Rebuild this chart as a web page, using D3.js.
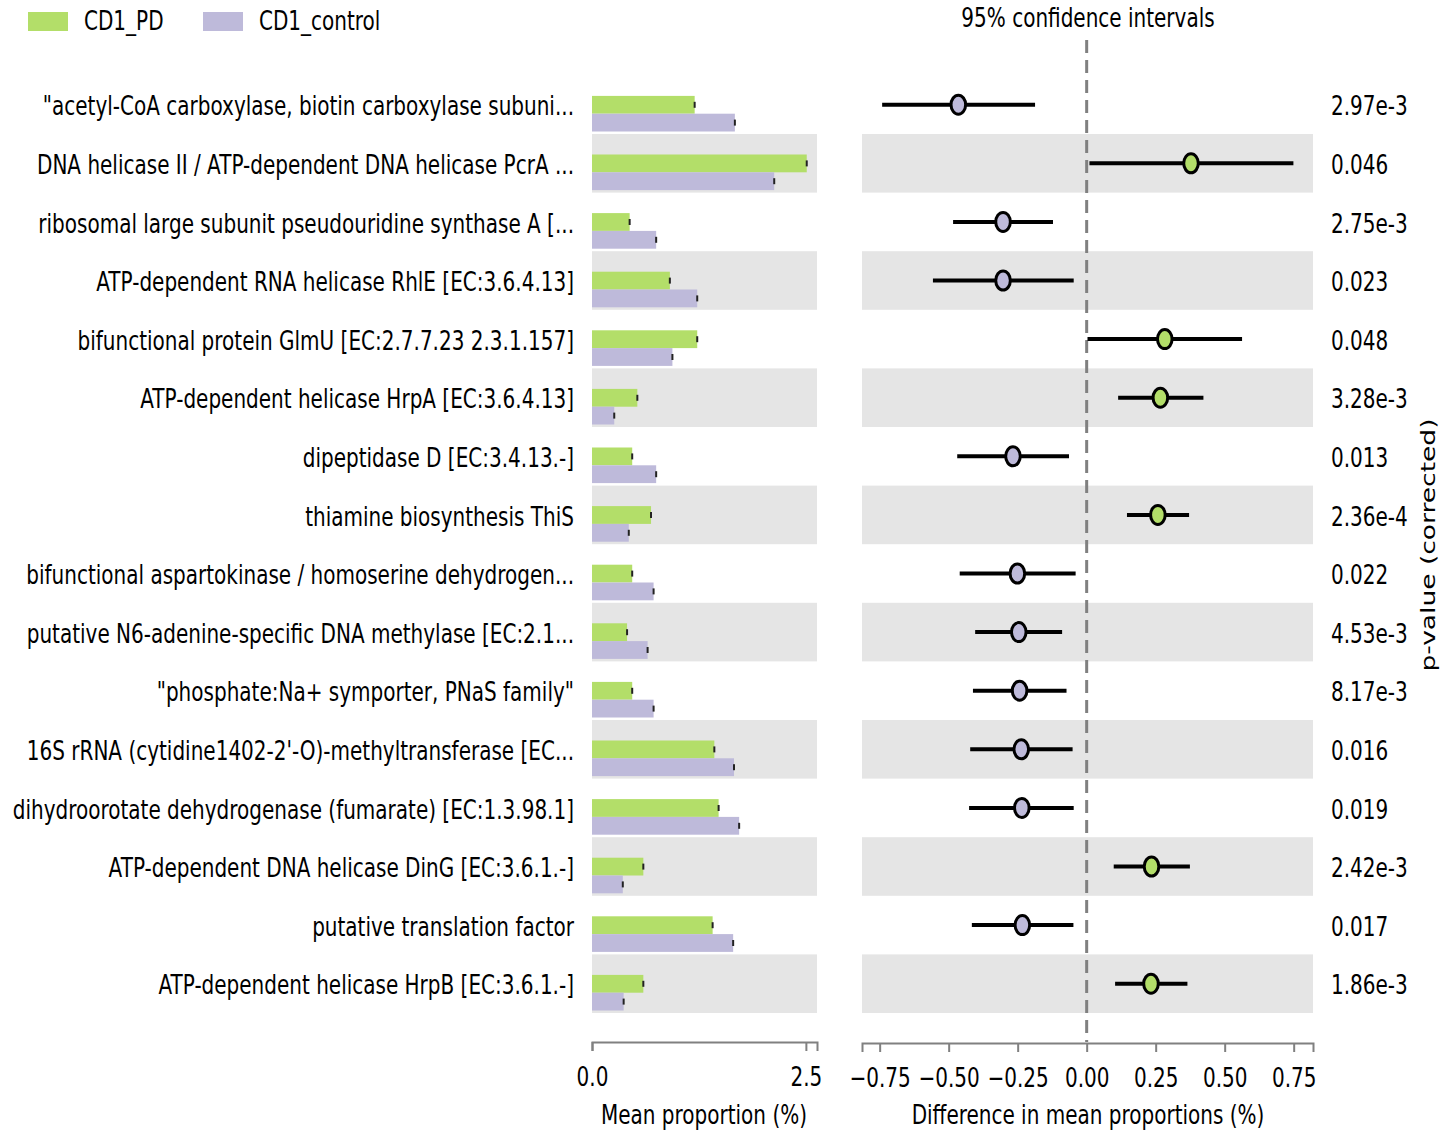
<!DOCTYPE html>
<html>
<head>
<meta charset="utf-8">
<script src="https://cdn.jsdelivr.net/npm/d3@7"></script>
<style>
  body { margin: 0; background: #fff; }
  text { font-family: "DejaVu Sans", sans-serif; fill: #000; }
</style>
</head>
<body>
<svg></svg>
<script>
const width = 1443;
const height = 1131;

// data, top row first
const labels = [
  "\"acetyl-CoA carboxylase, biotin carboxylase subuni...",
  "DNA helicase II / ATP-dependent DNA helicase PcrA ...",
  "ribosomal large subunit pseudouridine synthase A [...",
  "ATP-dependent RNA helicase RhlE [EC:3.6.4.13]",
  "bifunctional protein GlmU [EC:2.7.7.23 2.3.1.157]",
  "ATP-dependent helicase HrpA [EC:3.6.4.13]",
  "dipeptidase D [EC:3.4.13.-]",
  "thiamine biosynthesis ThiS",
  "bifunctional aspartokinase / homoserine dehydrogen...",
  "putative N6-adenine-specific DNA methylase [EC:2.1...",
  "\"phosphate:Na+ symporter, PNaS family\"",
  "16S rRNA (cytidine1402-2'-O)-methyltransferase [EC...",
  "dihydroorotate dehydrogenase (fumarate) [EC:1.3.98.1]",
  "ATP-dependent DNA helicase DinG [EC:3.6.1.-]",
  "putative translation factor",
  "ATP-dependent helicase HrpB [EC:3.6.1.-]"
];
const pdMean   = [1.20, 2.51, 0.44, 0.91, 1.23, 0.53, 0.47, 0.69, 0.47, 0.41, 0.47, 1.43, 1.48, 0.60, 1.41, 0.60];
const ctrlMean = [1.67, 2.13, 0.75, 1.23, 0.94, 0.26, 0.75, 0.43, 0.72, 0.65, 0.72, 1.66, 1.72, 0.36, 1.65, 0.37];
const diffMean = [-0.465, 0.378, -0.303, -0.303, 0.283, 0.267, -0.267, 0.258, -0.251, -0.246, -0.243, -0.237, -0.235, 0.235, -0.233, 0.233];
const ciLow    = [-0.741, 0.010, -0.484, -0.557, 0.003, 0.114, -0.469, 0.146, -0.460, -0.404, -0.412, -0.422, -0.426, 0.098, -0.416, 0.103];
const ciHigh   = [-0.187, 0.749, -0.122, -0.047, 0.563, 0.423, -0.064, 0.371, -0.040, -0.089, -0.073, -0.051, -0.047, 0.374, -0.048, 0.365];
const pValues  = ["2.97e-3", "0.046", "2.75e-3", "0.023", "0.048", "3.28e-3", "0.013", "2.36e-4", "0.022", "4.53e-3", "8.17e-3", "0.016", "0.019", "2.42e-3", "0.017", "1.86e-3"];
const groups = ["CD1_PD", "CD1_control"];
const propTicks = [0, 2.5];
const diffTicks = [-0.75, -0.5, -0.25, 0, 0.25, 0.5, 0.75];

const green = "#b3de69";
const purple = "#bebada";
const band = "#e5e5e5";
const axisGray = "#808080";
const SX = 0.755;      // horizontal squeeze of the text
const fontSize = 26.5;

const svg = d3.select("svg")
    .attr("width", width)
    .attr("height", height);

// helper: place a squeezed text
function label(g, x, y, str, anchor) {
    return g.append("text")
        .attr("transform", `translate(${x},${y}) scale(${SX},1)`)
        .attr("text-anchor", anchor || "start")
        .attr("dy", "0.35em")
        .style("font-size", fontSize + "px")
        .text(str);
}

const y = d3.scaleBand()
    .domain(d3.range(labels.length))
    .range([75.4, 75.4 + 58.6 * labels.length]);

const xProp = d3.scaleLinear().domain([0, 2.63]).range([592, 817]);
const xDiff = d3.scaleLinear().domain([-0.814, 0.82]).range([862, 1313]);

// gray stripes on every second row
const stripes = d3.range(labels.length).filter(i => i % 2 === 1);
svg.selectAll(".band1")
    .data(stripes)
    .enter().append("rect")
    .attr("x", xProp.range()[0])
    .attr("y", i => y(i))
    .attr("width", xProp.range()[1] - xProp.range()[0])
    .attr("height", y.bandwidth())
    .attr("fill", band);
svg.selectAll(".band2")
    .data(stripes)
    .enter().append("rect")
    .attr("x", xDiff.range()[0])
    .attr("y", i => y(i))
    .attr("width", xDiff.range()[1] - xDiff.range()[0])
    .attr("height", y.bandwidth())
    .attr("fill", band);

// row labels + p-values
const rows = d3.range(labels.length);
rows.forEach(i => {
    const cy = y(i) + y.bandwidth() / 2 + 1.5;
    label(svg, 574, cy, labels[i], "end");
    label(svg, 1331, cy, pValues[i], "start");
});

// mean proportion bars
const barH = 17.8;
const bars = svg.append("g");
rows.forEach(i => {
    const top = y(i) + 20.5;
    [[pdMean[i], green, top], [ctrlMean[i], purple, top + barH]].forEach(([v, c, t]) => {
        bars.append("rect")
            .attr("x", xProp(0))
            .attr("y", t)
            .attr("width", xProp(v) - xProp(0))
            .attr("height", barH)
            .attr("fill", c);
        bars.append("line")
            .attr("x1", xProp(v)).attr("x2", xProp(v))
            .attr("y1", t + barH / 2 - 3).attr("y2", t + barH / 2 + 3)
            .attr("stroke", "#222")
            .attr("stroke-width", 2);
    });
});

// zero line
svg.append("line")
    .attr("x1", xDiff(0)).attr("x2", xDiff(0))
    .attr("y1", 40).attr("y2", 1042)
    .attr("stroke", axisGray)
    .attr("stroke-width", 3)
    .attr("stroke-dasharray", "13,7");

// confidence intervals
const ci = svg.append("g");
rows.forEach(i => {
    const cy = y(i) + y.bandwidth() / 2;
    ci.append("line")
        .attr("x1", xDiff(ciLow[i])).attr("x2", xDiff(ciHigh[i]))
        .attr("y1", cy).attr("y2", cy)
        .attr("stroke", "#000")
        .attr("stroke-width", 4);
    ci.append("ellipse")
        .attr("cx", xDiff(diffMean[i]))
        .attr("cy", cy)
        .attr("rx", 7.3)
        .attr("ry", 9.5)
        .attr("fill", diffMean[i] > 0 ? green : purple)
        .attr("stroke", "#000")
        .attr("stroke-width", 3);
});

// axes
function styleAxis(g) {
    g.select(".domain").attr("stroke", axisGray).attr("stroke-width", 2);
    g.selectAll(".tick line").attr("stroke", axisGray).attr("stroke-width", 2);
    g.selectAll(".tick text")
        .attr("transform", `scale(${SX},1)`)
        .attr("y", 35)
        .attr("dy", "0.35em")
        .style("font-size", fontSize + "px")
        .style("font-family", "DejaVu Sans")
        .attr("fill", "#000");
}

svg.append("g")
    .attr("transform", "translate(0,1042)")
    .call(d3.axisBottom(xProp).tickValues(propTicks).tickFormat(d3.format(".1f")).tickSizeOuter(0).tickSize(9))
    .call(styleAxis);

svg.append("g")
    .attr("transform", "translate(0,1043)")
    .call(d3.axisBottom(xDiff).tickValues(diffTicks).tickFormat(d3.format(".2f")).tickSizeOuter(0).tickSize(9))
    .call(styleAxis);

label(svg, 704, 1115, "Mean proportion (%)", "middle");
label(svg, 1088, 1115, "Difference in mean proportions (%)", "middle");
label(svg, 1088, 18, "95% confidence intervals", "middle");

// right side label
svg.append("text")
    .attr("transform", `translate(1428,545) scale(${SX},1) rotate(-90)`)
    .attr("text-anchor", "middle")
    .attr("dy", "0.35em")
    .style("font-size", fontSize + "px")
    .text("p-value (corrected)");

// legend
const legend = svg.append("g");
[[groups[0], green, 28], [groups[1], purple, 203]].forEach(([name, c, x]) => {
    legend.append("rect")
        .attr("x", x).attr("y", 12)
        .attr("width", 40).attr("height", 19)
        .attr("fill", c);
    label(legend, x + 56, 21, name, "start");
});
</script>
</body>
</html>
